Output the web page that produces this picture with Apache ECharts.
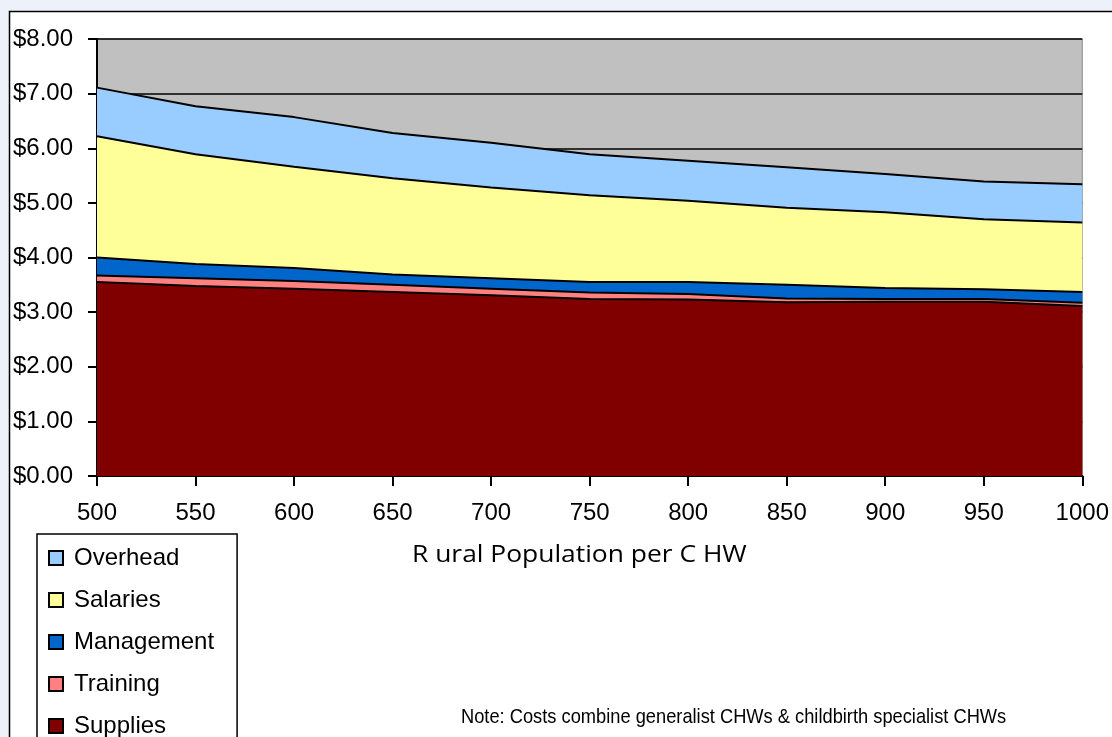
<!DOCTYPE html>
<html>
<head>
<meta charset="utf-8">
<script src="https://cdn.jsdelivr.net/npm/echarts@6/dist/echarts.min.js"></script>
<style>
  html, body { margin: 0; padding: 0; background: #EDF1F9; }
  #chart { width: 1112px; height: 737px; }
</style>
</head>
<body>
<div id="chart"></div>
<script>
var categories = ['500', '550', '600', '650', '700', '750', '800', '850', '900', '950', '1000'];
var supplies   = [3.55, 3.48, 3.43, 3.37, 3.31, 3.24, 3.23, 3.18, 3.19, 3.19, 3.11];
var training   = [0.12, 0.14, 0.14, 0.13, 0.12, 0.12, 0.10, 0.07, 0.05, 0.05, 0.06];
var management = [0.33, 0.26, 0.24, 0.19, 0.19, 0.19, 0.22, 0.25, 0.20, 0.18, 0.20];
var salaries   = [2.22, 2.01, 1.85, 1.76, 1.66, 1.59, 1.49, 1.41, 1.39, 1.28, 1.27];
var overhead   = [0.89, 0.88, 0.91, 0.83, 0.82, 0.75, 0.73, 0.74, 0.70, 0.69, 0.70];

var chart = echarts.init(document.getElementById('chart'));

var makeSeries = function (name, data, color) {
    return {
        name: name,
        type: 'line',
        stack: 'cost',
        data: data,
        showSymbol: false,
        symbol: 'none',
        itemStyle: { color: color, borderColor: '#000', borderWidth: 1.5 },
        lineStyle: { color: '#000', width: 2 },
        areaStyle: { color: color, opacity: 1 }
    };
};

var option = {
    backgroundColor: '#EDF1F9',
    animation: false,
    graphic: [
        {
            type: 'rect',
            z: -10,
            shape: { x: 9.5, y: 11.5, width: 1200, height: 800 },
            style: { fill: '#fff', stroke: '#000', lineWidth: 1.5 }
        },
        {
            type: 'text',
            x: 412,
            y: 543,
            scaleX: 1.1,
            style: {
                text: 'R ural Population per C HW',
                font: '24px "Open Sans"',
                fill: '#000'
            }
        },
        {
            type: 'text',
            x: 461,
            y: 707,
            scaleX: 0.87,
            style: {
                text: 'Note: Costs combine generalist CHWs & childbirth specialist CHWs',
                font: '21px "Liberation Sans", Arial',
                fill: '#000'
            }
        }
    ],
    legend: {
        orient: 'vertical',
        left: 37,
        top: 534,
        height: 260,
        data: ['Overhead', 'Salaries', 'Management', 'Training', 'Supplies'],
        icon: 'rect',
        itemWidth: 14,
        itemHeight: 14,
        itemGap: 18,
        padding: [12, 23, 30, 11],
        backgroundColor: '#fff',
        borderColor: '#000',
        borderWidth: 1.5,
        textStyle: {
            fontFamily: '"Liberation Sans", Arial',
            fontSize: 24,
            color: '#000',
            padding: [0, 0, 0, 6]
        }
    },
    grid: {
        left: 97,
        right: 27,
        top: 39,
        bottom: 261,
        show: true,
        backgroundColor: '#C0C0C0',
        borderColor: '#8C8C8C',
        borderWidth: 1
    },
    xAxis: {
        type: 'category',
        data: categories,
        boundaryGap: false,
        axisLine: { lineStyle: { color: '#000', width: 2 } },
        axisTick: { length: 10, lineStyle: { color: '#000', width: 2 } },
        axisLabel: {
            margin: 25,
            fontFamily: '"Liberation Sans", Arial',
            fontSize: 24,
            color: '#000'
        },
        splitLine: { show: false }
    },
    yAxis: {
        type: 'value',
        min: 0,
        max: 8,
        interval: 1,
        axisLine: { show: true, lineStyle: { color: '#000', width: 2 } },
        axisTick: { show: true, length: 9, lineStyle: { color: '#000', width: 2 } },
        axisLabel: {
            margin: 24,
            fontFamily: '"Liberation Sans", Arial',
            fontSize: 24,
            color: '#000',
            formatter: function (v) { return '$' + v.toFixed(2); }
        },
        splitLine: { show: true, lineStyle: { color: '#000', width: 1.5 } }
    },
    series: [
        makeSeries('Supplies', supplies, '#800000'),
        makeSeries('Training', training, '#FF8080'),
        makeSeries('Management', management, '#0066CC'),
        makeSeries('Salaries', salaries, '#FFFF99'),
        makeSeries('Overhead', overhead, '#99CCFF')
    ]
};

chart.setOption(option);
</script>
</body>
</html>
